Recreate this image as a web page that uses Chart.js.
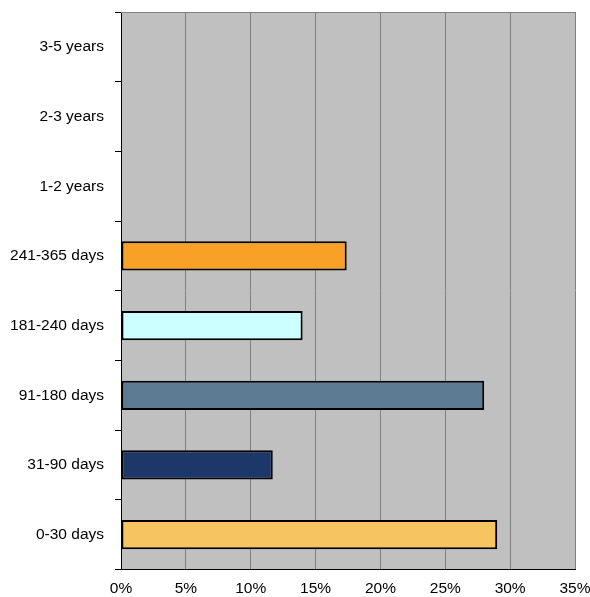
<!DOCTYPE html>
<html>
<head>
<meta charset="utf-8">
<script src="https://cdn.jsdelivr.net/npm/chart.js@4/dist/chart.umd.min.js"></script>
<style>
  html, body { margin: 0; padding: 0; background: #fff; }
  #wrap { width: 590px; height: 597px; }
</style>
</head>
<body>
<div id="wrap"><canvas id="chart"></canvas></div>
<script>
// data, bottom to top as in the picture
const categories = ['0-30 days', '31-90 days', '91-180 days', '181-240 days', '241-365 days', '1-2 years', '2-3 years', '3-5 years'];
const shares = [29.0, 11.7, 28.0, 14.0, 17.4, 0, 0, 0];
const barColors = ['#F6C55F', '#1C3768', '#5D7B92', '#CCFFFF', '#F9A026', '#999999', '#999999', '#999999'];
const xTicks = [0, 5, 10, 15, 20, 25, 30, 35];

// grey plot area plus top edge
const plotBackground = {
  id: 'plotBackground',
  beforeDraw(chart) {
    const { ctx, chartArea: a } = chart;
    ctx.save();
    ctx.fillStyle = '#C0C0C0';
    ctx.fillRect(a.left, a.top, a.right - a.left, a.bottom - a.top);
    ctx.restore();
  },
  afterDatasetsDraw(chart) {
    const { ctx, chartArea: a } = chart;
    ctx.save();
    ctx.strokeStyle = '#808080';
    ctx.lineWidth = 1;
    ctx.beginPath();
    ctx.moveTo(a.left, a.top + 0.5);
    ctx.lineTo(a.right, a.top + 0.5);
    ctx.stroke();
    ctx.restore();
  }
};

const font = { family: 'Arial, "Liberation Sans", sans-serif', size: 15.5 };

new Chart(document.getElementById('chart'), {
  type: 'bar',
  data: {
    labels: categories,
    datasets: [{
      data: shares,
      backgroundColor: barColors,
      borderColor: '#000',
      borderWidth: 2,
      borderSkipped: false,
      barPercentage: 0.42,
      categoryPercentage: 1
    }]
  },
  options: {
    indexAxis: 'y',
    responsive: true,
    maintainAspectRatio: false,
    animation: false,
    layout: { padding: { top: 12, right: 15, left: 0, bottom: 0 } },
    plugins: {
      legend: { display: false },
      tooltip: { enabled: false }
    },
    scales: {
      x: {
        min: 0,
        max: 35,
        afterBuildTicks(axis) {
          axis.ticks = xTicks.map(v => ({ value: v }));
        },
        afterFit(axis) {
          axis.height = 27.5;
          axis.paddingLeft = 0;
          axis.paddingRight = 0;
        },
        grid: { color: '#808080', lineWidth: 1, drawTicks: false },
        border: { color: '#000', width: 1 },
        ticks: {
          color: '#000',
          font: font,
          padding: 10,
          callback: v => v + '%'
        }
      },
      y: {
        reverse: true,
        offset: true,
        afterFit(axis) {
          axis.width = 121;
          axis.paddingTop = 0;
          axis.paddingBottom = 0;
        },
        grid: {
          offset: true,
          drawOnChartArea: false,
          drawTicks: true,
          tickLength: 6,
          color: '#000'
        },
        border: { color: '#000', width: 1 },
        ticks: {
          color: '#000',
          font: font,
          padding: 11
        }
      }
    }
  },
  plugins: [plotBackground]
});
</script>
</body>
</html>
